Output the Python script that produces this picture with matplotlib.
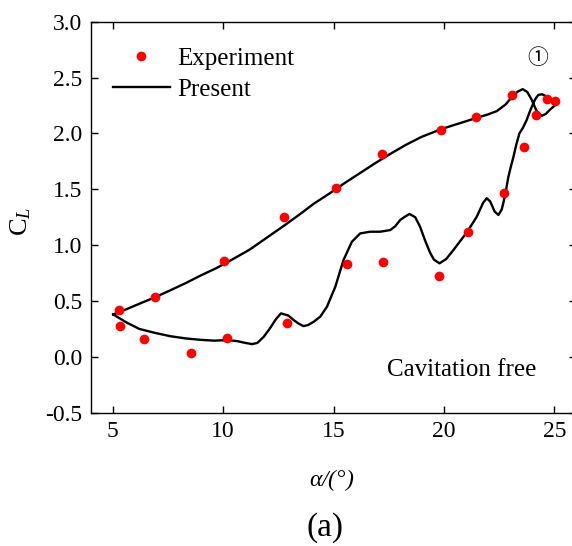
import matplotlib
matplotlib.use("Agg")
import matplotlib.pyplot as plt

plt.rcParams['font.family'] = ['Liberation Serif', 'DejaVu Serif']
plt.rcParams['mathtext.fontset'] = 'custom'
plt.rcParams['mathtext.rm'] = 'Liberation Serif'
plt.rcParams['mathtext.it'] = 'Liberation Serif:italic'

# experimental lift coefficient
exp_alpha = [5.30, 5.32, 6.40, 6.93, 8.56, 10.02, 10.19, 12.74, 12.89, 15.12, 15.61,
             17.19, 17.24, 19.77, 19.89, 21.11, 21.47, 22.72, 23.10, 23.63, 24.16,
             24.66, 25.05]
exp_cl = [0.418, 0.275, 0.156, 0.532, 0.039, 0.858, 0.168, 1.255, 0.305, 1.509, 0.828,
          1.814, 0.846, 0.726, 2.031, 1.120, 2.148, 1.470, 2.342, 1.879, 2.169,
          2.312, 2.291]

# computed lift, traced as a closed hysteresis loop (up branch then back down)
sim_alpha = [5.02, 5.6, 6.2, 6.93, 7.6, 8.3, 9.0, 9.7, 10.4, 11.2, 12.0, 12.8, 13.5,
             14.1, 14.8, 15.5, 16.2, 16.9, 17.6, 18.3, 19.0, 19.9, 20.7, 21.5, 22.0,
             22.4, 22.8, 23.1, 23.35, 23.57, 23.78, 23.98, 24.2, 24.43, 24.62, 24.82,
             25.05,
             24.85, 24.66, 24.45, 24.28, 24.15, 24.05, 23.9, 23.75, 23.58, 23.42, 23.28,
             23.15, 23.03, 22.92, 22.82, 22.72, 22.62, 22.47, 22.3, 22.1, 21.94, 21.78,
             21.49, 21.06, 20.43, 20.1, 19.8, 19.55, 19.38, 19.15, 18.92, 18.7, 18.44,
             18.2, 18.02, 17.8, 17.57, 17.11, 16.66, 16.21, 15.83, 15.45, 15.08, 14.7,
             14.4, 14.1, 13.85, 13.64, 13.4, 13.19, 12.95, 12.62, 12.4, 12.1, 11.84,
             11.55, 11.31, 11.0, 10.63, 10.18, 9.6, 9.0, 8.3, 7.6, 6.9, 6.2, 5.6, 5.02]
sim_cl = [0.38, 0.425, 0.475, 0.535, 0.595, 0.66, 0.73, 0.795, 0.87, 0.96, 1.07, 1.18,
          1.28, 1.37, 1.46, 1.555, 1.645, 1.735, 1.82, 1.9, 1.97, 2.04, 2.09, 2.14,
          2.17, 2.2, 2.26, 2.33, 2.375, 2.396, 2.37, 2.3, 2.2, 2.157, 2.175, 2.215,
          2.255,
          2.30, 2.33, 2.35, 2.345, 2.31, 2.27, 2.2, 2.12, 2.05, 2.0, 1.9,
          1.79, 1.7, 1.61, 1.5, 1.4, 1.32, 1.27, 1.3, 1.39, 1.42, 1.38,
          1.255, 1.12, 0.956, 0.875, 0.837, 0.87, 0.93, 1.04, 1.165, 1.25, 1.279,
          1.25, 1.225, 1.17, 1.135, 1.12, 1.12, 1.105, 1.03, 0.866, 0.627, 0.448,
          0.36, 0.314, 0.285, 0.275, 0.3, 0.33, 0.37, 0.389, 0.34, 0.25, 0.18,
          0.125, 0.114, 0.125, 0.141, 0.15, 0.145, 0.152, 0.165, 0.185, 0.215, 0.25, 0.31, 0.38]

xticks = [5, 10, 15, 20, 25]
yticks = [-0.5, 0.0, 0.5, 1.0, 1.5, 2.0, 2.5, 3.0]

fig = plt.figure(figsize=(5.72, 5.46), dpi=100)
ax = fig.add_axes([0.1586, 0.2441, 0.849, 0.7162])

ax.plot(exp_alpha, exp_cl, 'o', color='#ff0000', markersize=7, markeredgewidth=0,
        label='Experiment', zorder=3)
ax.plot(sim_alpha, sim_cl, '-', color='black', lw=1.7, solid_joinstyle='round',
        label='Present', zorder=2)

ax.set_xlim(4, 26)
ax.set_ylim(-0.5, 3.0)
ax.set_xticks(xticks)
ax.set_yticks(yticks)
ax.set_yticklabels(['%.1f' % v for v in yticks])
ax.tick_params(direction='in', length=5, width=1, labelsize=17,
               top=True, right=True, pad=6)
for s in ax.spines.values():
    s.set_linewidth(1.0)

ax.set_xlabel(r'$\alpha$/(°)', fontsize=17, fontstyle='italic')
ax.xaxis.set_label_coords(0.497, -0.14)
ax.set_ylabel(r'C$_L$', fontsize=19)
ax.yaxis.set_label_coords(-0.118, 0.49)

ax.text(0.764, 0.11, 'Cavitation free', transform=ax.transAxes, fontsize=18,
        ha='center', va='center')
ax.text(0.921, 0.907, '\u2460', transform=ax.transAxes, fontsize=15,
        ha='center', va='center', family=['Noto Sans CJK SC', 'DejaVu Sans'])

ax.legend(loc='upper left', bbox_to_anchor=(0.045, 0.935), frameon=False,
          fontsize=18, handlelength=2.3, handletextpad=0.3, labelspacing=0.36,
          borderpad=0, borderaxespad=0, numpoints=1)

fig.text(0.568, 0.033, '(a)', fontsize=24, ha='center', va='center')

fig.savefig('out.png', dpi=100)
